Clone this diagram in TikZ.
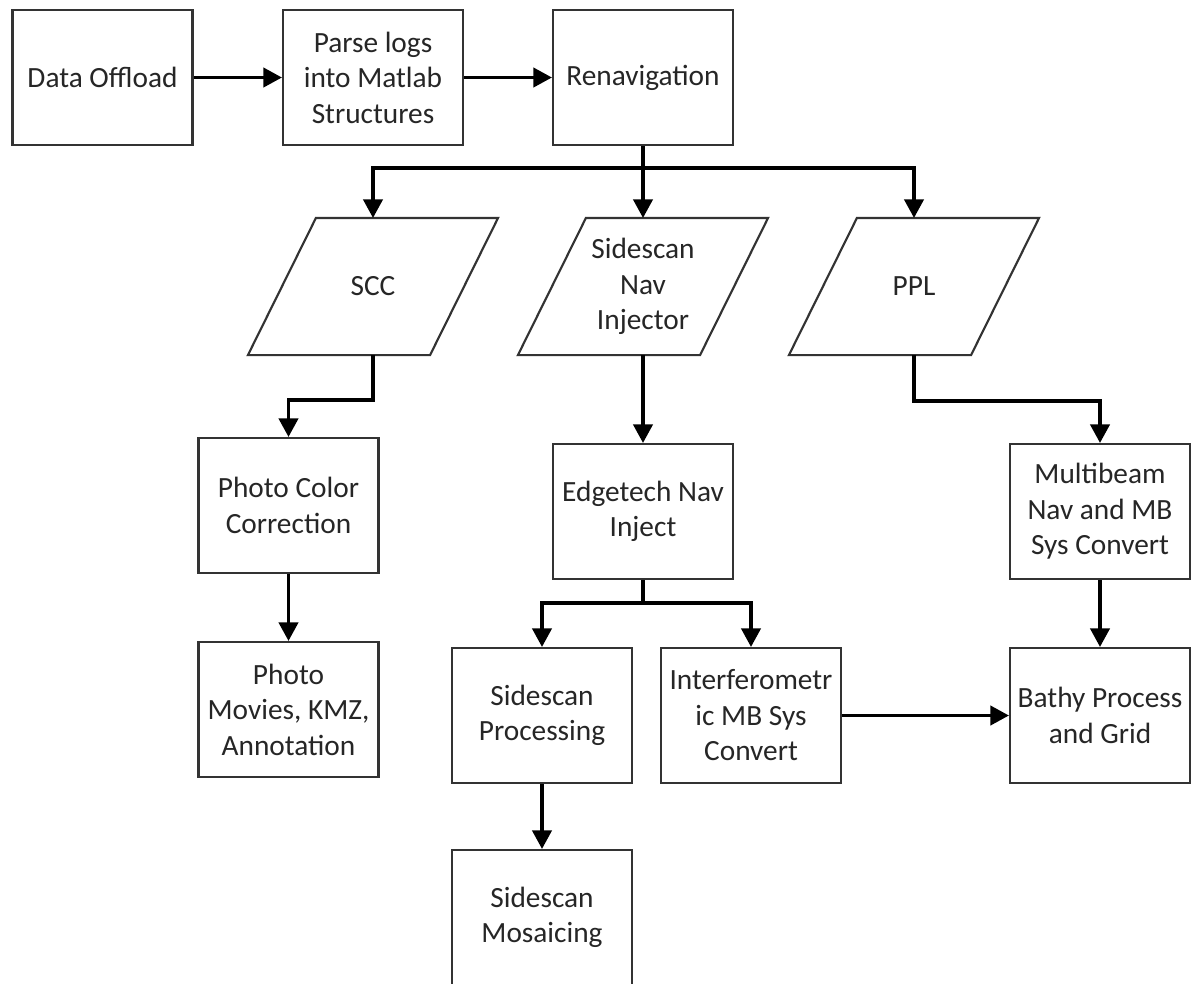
\documentclass[tikz,border=0pt]{standalone}
\usepackage{fontspec}
\setmainfont{Carlito}
\usetikzlibrary{arrows.meta,calc}
\definecolor{bordc}{HTML}{333333}
\definecolor{txtc}{HTML}{262626}
\begin{document}
\begin{tikzpicture}[x=0.75pt,y=-0.75pt,
  box/.style={draw=bordc, line width=1.6pt, minimum width=135pt, minimum height=101.25pt,
    inner sep=0pt, align=center, font=\fontsize{22}{26.6}\selectfont, text=txtc},
  para/.style={box, draw=none},
  conn/.style={line width=2.6pt, draw=black, -{Triangle[length=14pt,width=14.5pt]}},
  plain/.style={line width=2.6pt, draw=black},
  pshape/.style={line width=1.6pt, draw=bordc}]
\useasboundingbox (0,0) rectangle (1193,983);
\clip (0,0) rectangle (1193,983);
\fill[white] (0,0) rectangle (1193,983);

% top row
\node[box] (offload) at (102.5,77.5) {Data Offload};
\node[box] (parse)   at (373,77.5)   {Parse logs\\into Matlab\\Structures};
\node[box] (renav)   at (643,77.5)   {Renavigation};

% parallelograms
\node[para] (scc)   at (373,286.5) {SCC};
\node[para] (ssnav) at (643,286.5) {Sidescan\\Nav\\Injector};
\node[para] (ppl)   at (914,286.5) {PPL};
\foreach \n in {scc,ssnav,ppl}{
  \draw[pshape] ($(\n.north west)+(34,0)$) -- ($(\n.north east)+(34,0)$)
     -- ($(\n.south east)+(-34,0)$) -- ($(\n.south west)+(-34,0)$) -- cycle;
}

% lower boxes
\node[box] (pcc)   at (288.5,505.5) {Photo Color\\Correction};
\node[box] (photo) at (288.5,709.5) {Photo\\Movies, KMZ,\\Annotation};
\node[box] (edge)  at (643,511.5)   {Edgetech Nav\\Inject};
\node[box] (mb)    at (1100,511.5)  {Multibeam\\Nav and MB\\Sys Convert};
\node[box] (ssp)   at (542,715.5)   {Sidescan\\Processing};
\node[box] (intf)  at (751,715.5)   {Interferometr\\ic MB Sys\\Convert};
\node[box] (bathy) at (1100,715.5)  {Bathy Process\\and Grid};
\node[box] (mos)   at (542,917.5)   {Sidescan\\Mosaicing};

% connectors
\draw[conn] (offload) -- (parse);
\draw[conn] (parse) -- (renav);
\coordinate (br) at ($(renav.south)+(0,22)$);
\draw[plain] (renav.south) -- (br);
\draw[conn] (br) -| (scc.north);
\draw[conn] (br) -- (ssnav.north);
\draw[conn] (br) -| (ppl.north);

\coordinate (sccb) at ($(scc.south)+(0,45)$);
\draw[conn] (scc.south) -- (sccb) -| (pcc.north);
\draw[conn] (pcc) -- (photo);

\draw[conn] (ssnav.south) -- (edge.north);

\coordinate (pplb) at ($(ppl.south)+(0,46)$);
\draw[conn] (ppl.south) -- (pplb) -| (mb.north);
\draw[conn] (mb) -- (bathy);

\coordinate (eb) at ($(edge.south)+(0,23)$);
\draw[plain] (edge.south) -- (eb);
\draw[conn] (eb) -| (ssp.north);
\draw[conn] (eb) -| (intf.north);

\draw[conn] (intf) -- (bathy);
\draw[conn] (ssp) -- (mos);
\end{tikzpicture}
\end{document}
